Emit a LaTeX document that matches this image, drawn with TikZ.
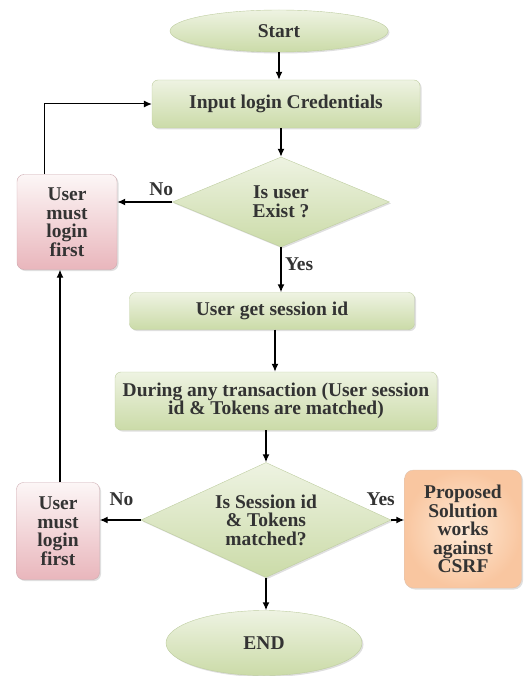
\documentclass[tikz,border=0pt]{standalone}
\usepackage{fontspec}
\setmainfont{Liberation Serif}
\usetikzlibrary{shapes.geometric,arrows.meta,shadows}
\definecolor{greentop}{RGB}{238,243,226}
\definecolor{greenbot}{RGB}{203,219,168}
\definecolor{greenline}{RGB}{190,205,160}
\definecolor{pinktop}{RGB}{252,246,246}
\definecolor{pinkbot}{RGB}{233,182,188}
\definecolor{pinkline}{RGB}{205,170,176}
\definecolor{orangein}{RGB}{254,234,214}
\definecolor{orangeout}{RGB}{249,198,160}

\begin{document}
\begin{tikzpicture}[
x=1pt,y=-1pt,
font=\fontsize{19.5}{18.5}\selectfont\bfseries,
text=black!80,
green/.style={
draw=greenline,
top color=greentop,
bottom color=greenbot,
drop shadow={shadow xshift=1.5pt,shadow yshift=-1.5pt,opacity=0.25}
},
rect/.style={
green,
rounded corners=6pt,
align=center
},
term/.style={
green,
ellipse
},
decision/.style={
green,
diamond,
aspect=2.2,
inner sep=0pt,
align=center
},
fail/.style={
draw=pinkline,
top color=pinktop,
bottom color=pinkbot,
rounded corners=7pt,
align=center,
drop shadow={shadow xshift=1.5pt,shadow yshift=-1.5pt,opacity=0.25}
},
arr/.style={
-{Latex[length=8pt,width=7pt]},
line width=1.4pt
}
]
\useasboundingbox (0,0) rectangle (529,676);

\node[term, minimum width=218pt, minimum height=42pt] (1) at (279,31) {Start};
\node[rect, minimum width=268pt, minimum height=48pt] (2) at (286,104) {Input login Credentials};
\node[decision, minimum width=217pt, minimum height=90pt] (3) at (281,202) {Is user\\Exist ?};
\node[rect, minimum width=285pt, minimum height=37pt] (4) at (272,311) {User get session id};
\node[rect, minimum width=322pt, minimum height=58pt] (5) at (276,401) {During any transaction (User session\\id \& Tokens are matched)};
\node[decision, minimum width=250pt, minimum height=115pt] (6) at (266,520) {Is Session id\\\& Tokens\\matched?};
\node[term, minimum width=196pt, minimum height=65pt] (7) at (264,643) {END};

\node[fail, minimum width=100pt, minimum height=95pt] (8) at (67,222) {User\\must\\login\\first};
\node[fail, minimum width=83pt, minimum height=97pt] (9) at (58,531) {User\\must\\login\\first};
\node[draw=orangeout!80!black!60, inner color=orangein, outer color=orangeout,
rounded corners=9pt, align=center, minimum width=117pt, minimum height=118pt,
drop shadow={shadow xshift=1.5pt,shadow yshift=-1.5pt,opacity=0.25}]
(10) at (463,529) {Proposed\\Solution\\works\\against\\CSRF};

% main flow
\draw[arr] (1.south) -- (1.south |- 2.north);
\draw[arr] (2.south -| 3.north) -- (3.north);
\draw[arr] (3.south) -- node[right, pos=0.37] {Yes} (3.south |- 4.north);
\draw[arr] ([xshift=3pt]4.south) -- ([xshift=3pt]4.south |- 5.north);
\draw[arr] (6.north |- 5.south) -- (6.north);
\draw[arr] (6.south) -- (6.south |- 7.north);

% decisions
\draw[arr] (3.west) -- node[above, pos=0.2, yshift=2pt] {No} (3.west -| 8.east);
\draw[arr] (6.west) -- node[above, pos=0.47, yshift=10pt] {No} (6.west -| 9.east);
\draw[arr] (6.east) -- node[above, pos=-0.8, yshift=10pt] {Yes} (6.east -| 10.west);

% back to login
\draw[arr, line width=1pt] ([xshift=-23pt]8.north) |- (2.west);
\draw[arr, line width=1.2pt] ([xshift=2pt]9.north) -- ([xshift=2pt]9.north |- 8.south);

\end{tikzpicture}
\end{document}
